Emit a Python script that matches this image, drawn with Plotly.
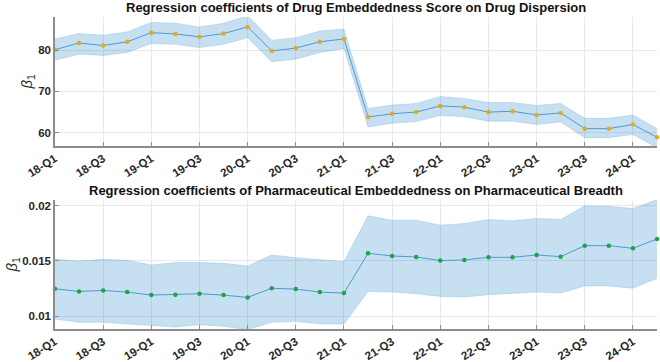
import plotly.graph_objects as go
from plotly.subplots import make_subplots

quarters = ["18-Q1","18-Q2","18-Q3","18-Q4","19-Q1","19-Q2","19-Q3","19-Q4",
            "20-Q1","20-Q2","20-Q3","20-Q4","21-Q1","21-Q2","21-Q3","21-Q4",
            "22-Q1","22-Q2","22-Q3","22-Q4","23-Q1","23-Q2","23-Q3","23-Q4",
            "24-Q1","24-Q2"]
tick_labels = quarters[::2]

drug_beta = [80.1, 81.7, 81.1, 82.0, 84.2, 83.9, 83.2, 84.0, 85.6, 79.8, 80.5, 82.0,
             82.7, 63.8, 64.6, 65.0, 66.5, 66.2, 65.0, 65.2, 64.3, 64.8, 61.0, 61.0,
             62.0, 58.9]
drug_upper = [82.7, 84.0, 83.6, 84.4, 86.7, 86.5, 85.6, 86.5, 88.3, 82.4, 83.0, 84.6,
              85.1, 65.9, 66.7, 67.1, 68.8, 68.3, 67.3, 67.3, 66.6, 67.1, 63.5, 63.5,
              64.3, 61.0]
drug_lower = [77.6, 79.0, 78.7, 79.4, 81.6, 81.4, 80.6, 81.4, 83.0, 77.2, 77.8, 79.4,
              80.4, 61.4, 62.3, 62.7, 64.2, 63.9, 62.8, 62.8, 62.0, 62.6, 58.8, 58.8,
              59.6, 56.4]

pharm_beta = [0.01249, 0.01225, 0.01234, 0.01219, 0.01192, 0.01195, 0.01204, 0.01192,
              0.01171, 0.01254, 0.01246, 0.01219, 0.01210, 0.01569, 0.01545, 0.01536,
              0.01503, 0.01509, 0.01533, 0.01533, 0.01554, 0.01539, 0.01638, 0.01638,
              0.01614, 0.01698]
pharm_upper = [0.01515, 0.01500, 0.01515, 0.01506, 0.01464, 0.01485, 0.01485, 0.01479,
               0.01455, 0.01554, 0.01530, 0.01509, 0.01494, 0.01907, 0.01868, 0.01868,
               0.01823, 0.01838, 0.01874, 0.01862, 0.01883, 0.01874, 0.01997, 0.01994,
               0.01973, 0.02054]
pharm_lower = [0.00976, 0.00946, 0.00946, 0.00931, 0.00916, 0.00904, 0.00925, 0.00910,
               0.00880, 0.00946, 0.00955, 0.00931, 0.00931, 0.01225, 0.01219, 0.01204,
               0.01180, 0.01174, 0.01195, 0.01204, 0.01219, 0.01210, 0.01275, 0.01275,
               0.01254, 0.01344]

titles = ["Regression coefficients of Drug Embeddedness Score on Drug Dispersion",
          "Regression coefficients of Pharmaceutical Embeddedness on Pharmaceutical Breadth"]
ylabel = "<i>β</i><sub>1</sub>"

LINE = "#4a9ad6"
FILL = "rgba(0,114,189,0.22)"
FONT = "Liberation Sans, Arial, sans-serif"

fig = make_subplots(rows=2, cols=1)

def add_panel(row, beta, upper, lower, mcolor):
    fig.add_trace(go.Scatter(x=quarters, y=upper, mode="lines", line=dict(color="rgba(74,154,214,0.3)", width=0.8),
                             showlegend=False, hoverinfo="skip"), row=row, col=1)
    fig.add_trace(go.Scatter(x=quarters, y=lower, mode="lines", line=dict(color="rgba(74,154,214,0.3)", width=0.8),
                             fill="tonexty", fillcolor=FILL, showlegend=False, hoverinfo="skip"), row=row, col=1)
    fig.add_trace(go.Scatter(x=quarters, y=beta, mode="lines+markers", line=dict(color=LINE, width=1),
                             marker=dict(color=mcolor, size=4.5, line=dict(color=mcolor, width=0)),
                             cliponaxis=False, showlegend=False), row=row, col=1)

add_panel(1, drug_beta, drug_upper, drug_lower, "#e3aa1c")
add_panel(2, pharm_beta, pharm_upper, pharm_lower, "#1fa34a")

W, H = 660, 362
L, R = 55, 3
TOP = 17      # pixel y of top of upper plot
BOT = 329     # pixel y of bottom of lower plot
mt, mb = TOP, H - BOT
ph = BOT - TOP
pw = W - L - R
fig.update_layout(
    width=W, height=H,
    margin=dict(l=L, r=R, t=mt, b=mb, autoexpand=False),
    paper_bgcolor="white", plot_bgcolor="white",
    font=dict(family=FONT, color="#262626"),
)

axis_common = dict(showline=True, linecolor="#8c8c8c", linewidth=1.5, mirror=False,
                   showgrid=True, gridcolor="#e8e8e8", gridwidth=1,
                   ticks="inside", ticklen=4, tickcolor="#8c8c8c",
                   tickfont=dict(family=FONT, size=11.5, color="#262626", weight="bold"),
                   zeroline=False, automargin=False)

for r in (1, 2):
    fig.update_xaxes(type="category", categoryorder="array", categoryarray=quarters,
                     tickmode="array", tickvals=tick_labels, ticktext=tick_labels,
                     range=[0, len(quarters) - 1], tickangle=-32, row=r, col=1, **axis_common)

top_dom = [1 - (146 - TOP) / ph, 1]
bot_dom = [0, 1 - (200 - TOP) / ph]
fig.update_yaxes(range=[56.8, 88.0], tickvals=[60, 70, 80], ticktext=["60", "70", "80"],
                 domain=top_dom, row=1, col=1, **axis_common)
fig.update_yaxes(range=[0.00886, 0.0205], tickvals=[0.01, 0.015, 0.02], ticktext=["0.01", "0.015", "0.02"],
                 domain=bot_dom, row=2, col=1, **axis_common)

for px, dom in ((27, top_dom), (12, bot_dom)):
    fig.add_annotation(text=ylabel, textangle=-90, x=(px - L) / pw, xref="paper", xanchor="center",
                       y=(dom[0] + dom[1]) / 2, yref="paper", yanchor="middle", showarrow=False,
                       font=dict(family=FONT, size=15, color="#262626"))

fig.add_annotation(text="<b>" + titles[0] + "</b>", x=0.5, xref="paper", y=1 + (TOP - 7) / ph, yref="paper",
                   yanchor="middle", showarrow=False, font=dict(family=FONT, size=13, color="#111111"))
fig.add_annotation(text="<b>" + titles[1] + "</b>", x=0.5, xref="paper", y=1 - (190 - TOP) / ph, yref="paper",
                   yanchor="middle", showarrow=False, font=dict(family=FONT, size=13, color="#111111"))

fig.write_html("out.html", config={"displayModeBar": False},
               post_script="document.body.style.margin='0';document.body.style.overflow='hidden';")
